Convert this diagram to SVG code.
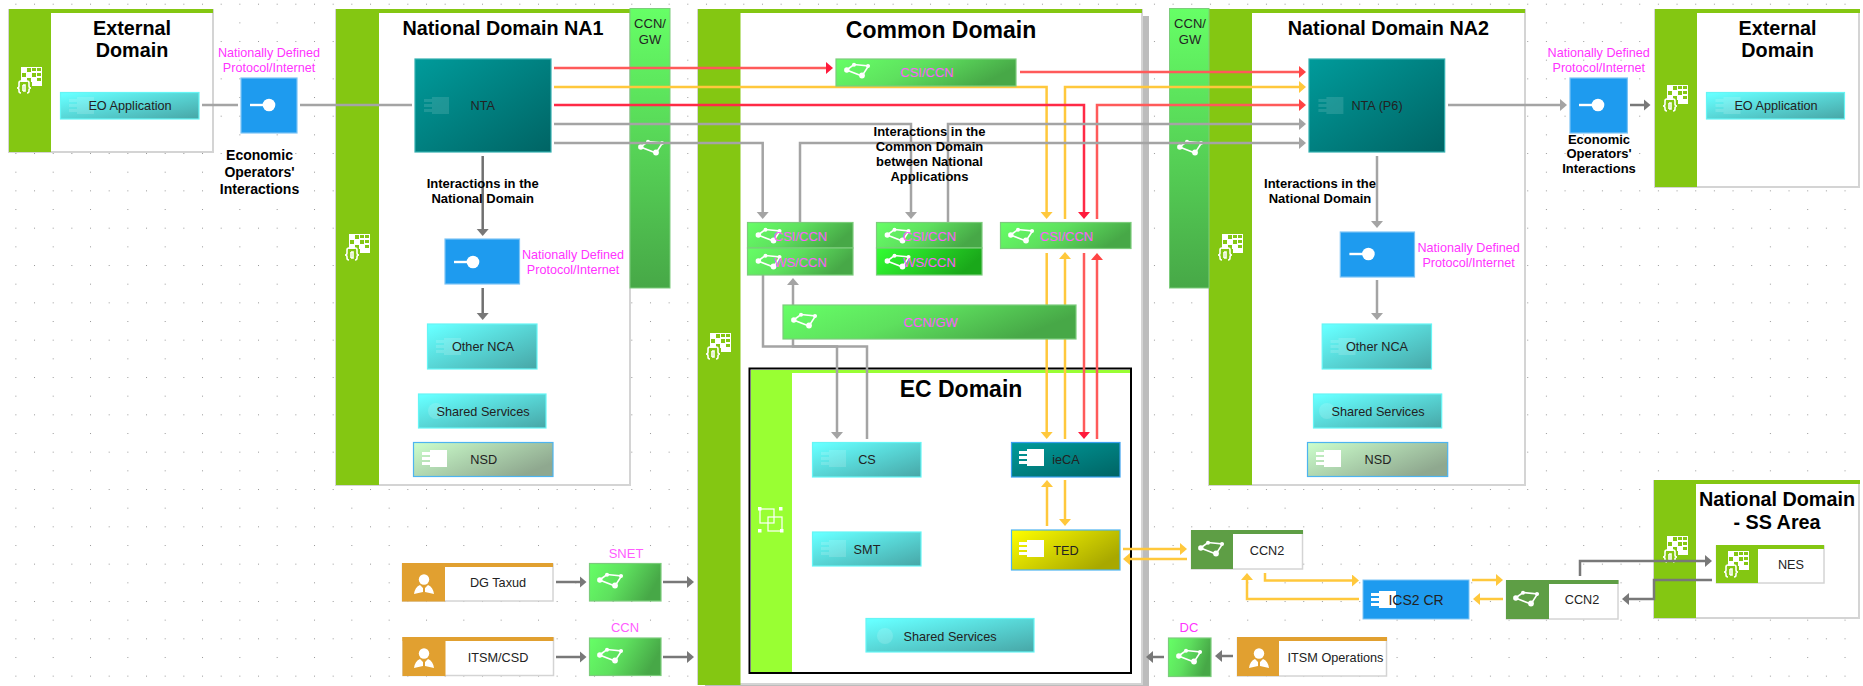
<svg xmlns="http://www.w3.org/2000/svg" width="1863" height="686" viewBox="0 0 1863 686">
<style>
text{font-family:"Liberation Sans",Arial,sans-serif;text-anchor:middle}
.t{font-size:19.800px;font-weight:700;fill:#000}
.tl{font-size:23px;font-weight:700;fill:#000}
.b{font-size:13px;font-weight:700;fill:#000}
.m{font-size:12.600px;fill:#ff33ff}
.p{font-size:13px;fill:#ff5cff}
.n{font-size:12.700px;fill:#222}
.panel{fill:#fff;stroke:#d4d4d4;stroke-width:2}
.bar{fill:#84c712}
.box{stroke-width:1.200}
.cy{fill:url(#gc);stroke:#66f5f5}
.te{fill:url(#gt);stroke:#33b0b0}
.gr{fill:url(#gg);stroke:#7ccc7c}
.bl{fill:#1e9bef;stroke:#7cc4f5}
.ln{fill:none;stroke-width:2.500}
.ga{stroke:#a4a4a4}.dg{stroke:#787878}.ye{stroke:#ffc83c}.re{stroke:#ff5a5a}.rs{stroke:#ff2a46}
.ws{fill:none;stroke:#fff;stroke-width:1.600}
</style>
<defs>
<pattern id="dots" patternUnits="userSpaceOnUse" x="-3.300" y="3.700" width="37.330" height="37.330">
<rect x="0" y="0" width="1" height="1" fill="#999"/><rect x="18.670" y="0" width="1" height="1" fill="#999"/><rect x="18.670" y="18.670" width="1" height="1" fill="#999"/>
</pattern>
<linearGradient id="gc" x1="0" y1="0" x2="1" y2="1"><stop offset="0.05" stop-color="#66ffff"/><stop offset="1" stop-color="#47a6a6"/></linearGradient>
<linearGradient id="gt" x1="0" y1="0" x2="1" y2="1"><stop offset="0" stop-color="#009b9b"/><stop offset="1" stop-color="#006464"/></linearGradient>
<linearGradient id="gg" x1="0" y1="0" x2="1" y2="0.3"><stop offset="0" stop-color="#66ff66"/><stop offset="0.5" stop-color="#5ee05e"/><stop offset="1" stop-color="#47a847"/></linearGradient>
<linearGradient id="gv" x1="0" y1="0" x2="0" y2="1"><stop offset="0" stop-color="#66ff66"/><stop offset="1" stop-color="#47a847"/></linearGradient>
<linearGradient id="gw" x1="0" y1="0" x2="1" y2="0.3"><stop offset="0" stop-color="#33ff33"/><stop offset="1" stop-color="#1aa81a"/></linearGradient>
<linearGradient id="gn" x1="0" y1="0" x2="1" y2="0.6"><stop offset="0" stop-color="#ccffcc"/><stop offset="1" stop-color="#8fa88f"/></linearGradient>
<linearGradient id="gy" x1="0" y1="0" x2="1" y2="0.6"><stop offset="0" stop-color="#ffff00"/><stop offset="1" stop-color="#a8a800"/></linearGradient>
<marker id="aG" markerUnits="userSpaceOnUse" markerWidth="8" markerHeight="13" refX="4" refY="6" orient="auto"><path d="M0 0L7 6L0 12z" fill="#a4a4a4"/></marker>
<marker id="aD" markerUnits="userSpaceOnUse" markerWidth="8" markerHeight="13" refX="4" refY="6" orient="auto"><path d="M0 0L7 6L0 12z" fill="#787878"/></marker>
<marker id="aY" markerUnits="userSpaceOnUse" markerWidth="8" markerHeight="13" refX="4" refY="6" orient="auto"><path d="M0 0L7 6L0 12z" fill="#ffc83c"/></marker>
<marker id="aR" markerUnits="userSpaceOnUse" markerWidth="8" markerHeight="13" refX="4" refY="6" orient="auto"><path d="M0 0L7 6L0 12z" fill="#ff4444"/></marker>
<marker id="aS" markerUnits="userSpaceOnUse" markerWidth="8" markerHeight="13" refX="4" refY="6" orient="auto"><path d="M0 0L7 6L0 12z" fill="#ff1a3c"/></marker>
<g id="iNet"><path class="ws" d="M1.500 7L9 1.500L23.500 3L17 13z"/><circle cx="1.800" cy="7" r="2.700" fill="#fff"/><circle cx="9" cy="1.800" r="2" fill="#fff"/><circle cx="23" cy="3" r="2" fill="#fff"/><circle cx="17" cy="12.500" r="2.900" fill="#fff"/></g>
<g id="iComp" fill="#fff"><rect x="8" y="0" width="17" height="17"/><rect x="0" y="2" width="10" height="3"/><rect x="0" y="7" width="10" height="3"/><rect x="0" y="12" width="10" height="3"/></g>
<g id="iDom"><path fill="#fff" d="M4 0H25V19H14V25H4z"/><g fill="#84c712"><rect x="10" y="1" width="4" height="4"/><rect x="15" y="1" width="4" height="3"/><rect x="20" y="1" width="4" height="3"/><rect x="5" y="6" width="4" height="4"/><rect x="15" y="6" width="4" height="4"/><rect x="20" y="6" width="4" height="3"/><rect x="10" y="11" width="4" height="4"/><rect x="20" y="11" width="4" height="3"/><rect x="4" y="15" width="11" height="11"/></g><path class="ws" d="M4 14q-2 0-2 2v3q0 2-2 2q2 0 2 2v1q0 2 2 2M10 14q2 0 2 2v3q0 2 2 2q-2 0-2 2v1q0 2-2 2M6 18v6M6 18h2v6h-2"/></g>
<g id="iIf" fill="#fff"><rect x="0" y="-1.200" width="16" height="2.400"/><circle cx="19" cy="0" r="6.300"/></g>
<g id="iAct" fill="#fff"><circle cx="10" cy="5.500" r="5.200"/><path d="M6 11l3 3v4l-9 2q1-7 6-9zM14 11l-3 3v4l9 2q-1-7-6-9z"/></g>
</defs>
<rect width="1863" height="686" fill="#fff"/>
<rect width="1863" height="686" fill="url(#dots)"/>

<g id="external-domain-left"><rect class="panel" x="9" y="10" width="204" height="142"/><rect class="bar" x="9" y="9" width="204" height="4"/><rect class="bar" x="9" y="9" width="42" height="143"/><use href="#iDom" x="17" y="67"/><text class="t" x="132" y="35">External</text><text class="t" x="132" y="57">Domain</text></g>
<g id="national-domain-na1"><rect class="panel" x="336" y="10" width="294" height="475"/><rect class="bar" x="336" y="9" width="294" height="4"/><rect class="bar" x="336" y="9" width="43" height="476"/><use href="#iDom" x="345" y="234"/><text class="t" x="503" y="35">National Domain NA1</text></g>
<g id="common-domain"><rect x="705" y="16" width="444" height="675" fill="#bcbcbc"/><rect class="panel" x="698" y="10" width="444" height="674"/><rect class="bar" x="698" y="9" width="444" height="4"/><rect class="bar" x="698" y="9" width="42.500" height="676"/><use href="#iDom" x="706" y="333"/><text class="tl" x="941" y="38">Common Domain</text></g>
<g id="national-domain-na2"><rect class="panel" x="1209" y="10" width="316" height="475"/><rect class="bar" x="1209" y="9" width="316" height="4"/><rect class="bar" x="1209" y="9" width="43" height="476"/><use href="#iDom" x="1218" y="234"/><text class="t" x="1388.400" y="35">National Domain NA2</text></g>
<g id="external-domain-right"><rect class="panel" x="1655" y="10" width="204" height="177"/><rect class="bar" x="1655" y="9" width="205" height="4"/><rect class="bar" x="1655" y="9" width="42" height="178"/><use href="#iDom" x="1663" y="85"/><text class="t" x="1777.600" y="35">External</text><text class="t" x="1777.600" y="57">Domain</text></g>
<g id="national-domain-ss"><rect class="panel" x="1654" y="481" width="205" height="137"/><rect class="bar" x="1654" y="480" width="206" height="4"/><rect class="bar" x="1654" y="480" width="42" height="138"/><use href="#iDom" x="1663" y="536"/><text class="t" x="1777" y="506">National Domain</text><text class="t" x="1777" y="529">- SS Area</text></g>
<g id="ccn-gw-strip-left"><rect x="630" y="8.500" width="40" height="279.500" fill="url(#gv)" stroke="#7ccc7c"/><use href="#iNet" x="639" y="140"/><text class="n" x="650" y="28" style="font-size:13px">CCN/</text><text class="n" x="650" y="44" style="font-size:13px">GW</text></g>
<g id="ccn-gw-strip-right"><rect x="1169.500" y="8.500" width="39.500" height="279.500" fill="url(#gv)" stroke="#7ccc7c"/><use href="#iNet" x="1178" y="140"/><text class="n" x="1190" y="28" style="font-size:13px">CCN/</text><text class="n" x="1190" y="44" style="font-size:13px">GW</text></g>
<g id="ec-domain"><rect x="749.500" y="368.500" width="381.500" height="304.500" fill="#fff" stroke="#000" stroke-width="2"/><rect x="751" y="370" width="379" height="3" fill="#99ff33"/><rect x="751" y="370" width="41" height="302" fill="#99ff33"/><g fill="none" stroke="#fff" stroke-width="1.200"><rect x="760" y="509" width="14" height="14"/><rect x="768" y="517" width="14" height="14"/></g><g fill="#fff"><rect x="758" y="507" width="3.500" height="3.500"/><rect x="779" y="507" width="3.500" height="3.500"/><rect x="758" y="529" width="3.500" height="3.500"/><rect x="780" y="529" width="3.500" height="3.500"/></g><text class="tl" x="961" y="397">EC Domain</text></g>

<g id="connectors">
<path class="ln ga" d="M202 105H238M300 105H412"/>
<path class="ln dg" style="stroke:#707070" d="M482.700 156V233" marker-end="url(#aD)"/>
<path class="ln dg" style="stroke:#707070" d="M482.700 288V317" marker-end="url(#aD)"/>
<path class="ln re" d="M554 68H830" marker-end="url(#aS)"/>
<path class="ln re" d="M1020 72H1303" marker-end="url(#aR)"/>
<path class="ln ye" d="M554 87H1046.600V216" marker-end="url(#aY)"/>
<path class="ln ye" d="M1065 219V87H1303" marker-end="url(#aY)"/>
<path class="ln rs" d="M554 105H1084V216" marker-end="url(#aS)"/>
<path class="ln re" d="M1097 219V105H1303" marker-end="url(#aR)"/>
<path class="ln ga" d="M554 124H911V216" marker-end="url(#aG)"/>
<path class="ln ga" d="M948 222V124H1303" marker-end="url(#aG)"/>
<path class="ln ga" d="M554 143H762.700V216" marker-end="url(#aG)"/>
<path class="ln ga" d="M800 222V143H1303" marker-end="url(#aG)"/>
<path class="ln ye" d="M1046.700 253V436" marker-end="url(#aY)"/>
<path class="ln ye" d="M1065 439V255" marker-end="url(#aY)"/>
<path class="ln re" d="M1084 253V436" marker-end="url(#aS)"/>
<path class="ln re" d="M1097 439V256" marker-end="url(#aR)"/>
<path class="ln ye" d="M1047 526V483" marker-end="url(#aY)"/>
<path class="ln ye" d="M1065 480V523" marker-end="url(#aY)"/>
<path class="ln ga" d="M763 275V346.500H837V436" marker-end="url(#aG)"/>
<path class="ln ga" d="M867 439V346.500H793V281" marker-end="url(#aG)"/>
<path class="ln ye" d="M1123 549H1184" marker-end="url(#aY)"/>
<path class="ln ye" d="M1187 559H1126" marker-end="url(#aY)"/>
<path class="ln ye" d="M1265 573V580.500H1356" marker-end="url(#aY)"/>
<path class="ln ye" d="M1359 599H1247V576" marker-end="url(#aY)"/>
<path class="ln ye" d="M1472 580H1500" marker-end="url(#aY)"/>
<path class="ln ye" d="M1503 599H1476" marker-end="url(#aY)"/>
<path class="ln dg" d="M1580 576V561H1709" marker-end="url(#aD)"/>
<path class="ln dg" d="M1712 580H1654V599H1625" marker-end="url(#aD)"/>
<path class="ln dg" d="M556 582H583.500" marker-end="url(#aD)"/>
<path class="ln dg" d="M663 582H691" marker-end="url(#aD)"/>
<path class="ln dg" d="M556 657H583.500" marker-end="url(#aD)"/>
<path class="ln dg" d="M663 657H691" marker-end="url(#aD)"/>
<path class="ln dg" d="M1233 656H1218" marker-end="url(#aD)"/>
<path class="ln dg" d="M1164 657H1149" marker-end="url(#aD)"/>
<path class="ln ga" d="M1448 105H1564" marker-end="url(#aG)"/>
<path class="ln dg" d="M1630 105H1647.500" marker-end="url(#aD)"/>
<path class="ln ga" d="M1377 156V225" marker-end="url(#aG)"/>
<path class="ln ga" d="M1377 280V317" marker-end="url(#aG)"/>
</g>

<g id="eo-application-left"><rect class="box cy" x="60.500" y="92.500" width="138.500" height="26.500"/><use href="#iComp" x="69" y="97" opacity="0.15"/><text class="n" x="130" y="110">EO Application</text></g>
<g id="if-eo-left"><rect class="box bl" x="241" y="78" width="56" height="55"/><use href="#iIf" x="250" y="105"/><text class="m" x="269" y="57">Nationally Defined</text><text class="m" x="269" y="71.500">Protocol/Internet</text><text class="b" x="259.500" y="160" style="font-size:14px">Economic</text><text class="b" x="259.500" y="177" style="font-size:14px">Operators'</text><text class="b" x="259.500" y="194" style="font-size:14px">Interactions</text></g>
<g id="nta"><rect class="box te" x="415" y="59" width="136" height="93"/><use href="#iComp" x="424" y="97" opacity="0.12"/><text class="n" x="482.700" y="110">NTA</text></g>
<g id="label-na1"><text class="b" x="482.700" y="188">Interactions in the</text><text class="b" x="482.700" y="203">National Domain</text></g>
<g id="if-na1"><rect class="box bl" x="445" y="239" width="74.500" height="45"/><use href="#iIf" x="454" y="262"/><text class="m" x="573" y="259">Nationally Defined</text><text class="m" x="573" y="274">Protocol/Internet</text></g>
<g id="other-nca-na1"><rect class="box cy" x="427.500" y="324" width="109.500" height="45"/><use href="#iComp" x="436" y="338" opacity="0.15"/><text class="n" x="483" y="351">Other NCA</text></g>
<g id="shared-na1"><rect class="box cy" x="418.500" y="394" width="127.500" height="34"/><circle cx="436" cy="411" r="8" fill="#fff" opacity="0.15"/><text class="n" x="483" y="416">Shared Services</text></g>
<g id="nsd-na1"><rect x="413.500" y="442.500" width="139.500" height="34" fill="url(#gn)" stroke="#4db4f0" stroke-width="1.200"/><use href="#iComp" x="422" y="450"/><text class="n" x="483.700" y="464">NSD</text></g>

<g id="csi-ccn-top"><rect class="box gr" x="836" y="59" width="180" height="27"/><use href="#iNet" x="845" y="63"/><text class="p" x="927" y="76.500">CSI/CCN</text></g>
<g id="csi-ccn-a"><rect class="box gr" x="747.500" y="222.500" width="105.500" height="25.500"/><use href="#iNet" x="756.500" y="228"/><text class="p" x="800.500" y="241">CSI/CCN</text></g>
<g id="ws-ccn-a"><rect class="box gr" x="747.500" y="248" width="105.500" height="27"/><use href="#iNet" x="756.500" y="254"/><text class="p" x="800.500" y="267">WS/CCN</text></g>
<g id="csi-ccn-b"><rect class="box gr" x="876.500" y="222.500" width="105.500" height="25.500"/><use href="#iNet" x="885.500" y="228"/><text class="p" x="929.500" y="241">CSI/CCN</text></g>
<g id="ws-ccn-b"><rect x="876.500" y="248" width="105.500" height="27" fill="url(#gw)" stroke="#7ccc7c" stroke-width="1.200"/><use href="#iNet" x="885.500" y="254"/><text class="p" x="929.500" y="267">WS/CCN</text></g>
<g id="csi-ccn-c"><rect class="box gr" x="1000.500" y="222.500" width="130.500" height="26"/><use href="#iNet" x="1009" y="228"/><text class="p" x="1066.500" y="241">CSI/CCN</text></g>
<g id="ccn-gw-wide"><rect class="box gr" x="783" y="305" width="293" height="34"/><use href="#iNet" x="792" y="313"/><text class="p" x="930.700" y="327">CCN/GW</text></g>
<g id="label-common"><text class="b" x="929.500" y="136">Interactions in the</text><text class="b" x="929.500" y="151">Common Domain</text><text class="b" x="929.500" y="166">between National</text><text class="b" x="929.500" y="181">Applications</text></g>
<g id="cs"><rect class="box cy" x="812.500" y="442.500" width="108.500" height="34.500"/><use href="#iComp" x="821" y="450" opacity="0.15"/><text class="n" x="867" y="464">CS</text></g>
<g id="smt"><rect class="box cy" x="812.500" y="532" width="108.500" height="34"/><use href="#iComp" x="821" y="540" opacity="0.15"/><text class="n" x="867" y="554">SMT</text></g>
<g id="ieca"><rect x="1011.500" y="442.500" width="108.500" height="34.500" fill="url(#gt)" stroke="#3aa0ef" stroke-width="1.200"/><use href="#iComp" x="1019" y="449"/><text class="n" x="1066" y="464">ieCA</text></g>
<g id="ted"><rect x="1011.500" y="530" width="108.500" height="40" fill="url(#gy)" stroke="#4db4f0" stroke-width="1.200"/><use href="#iComp" x="1019" y="540"/><text class="n" x="1066" y="555">TED</text></g>
<g id="shared-ec"><rect class="box cy" x="866" y="618.500" width="168" height="33.500"/><circle cx="885" cy="636" r="8" fill="#fff" opacity="0.15"/><text class="n" x="950" y="641">Shared Services</text></g>

<g id="nta-p6"><rect class="box te" x="1309" y="59" width="135.700" height="93"/><use href="#iComp" x="1318.400" y="97" opacity="0.12"/><text class="n" x="1377" y="110">NTA (P6)</text></g>
<g id="label-na2"><text class="b" x="1320" y="188">Interactions in the</text><text class="b" x="1320" y="203">National Domain</text></g>
<g id="if-na2"><rect class="box bl" x="1340.300" y="232" width="74.200" height="45"/><use href="#iIf" x="1349.400" y="254"/><text class="m" x="1468.600" y="252">Nationally Defined</text><text class="m" x="1468.600" y="267">Protocol/Internet</text></g>
<g id="other-nca-na2"><rect class="box cy" x="1322.200" y="324" width="109.300" height="45"/><use href="#iComp" x="1330.500" y="338" opacity="0.15"/><text class="n" x="1377" y="351">Other NCA</text></g>
<g id="shared-na2"><rect class="box cy" x="1313.500" y="394" width="128.200" height="34"/><circle cx="1327" cy="411" r="8" fill="#fff" opacity="0.15"/><text class="n" x="1378" y="416">Shared Services</text></g>
<g id="nsd-na2"><rect x="1307.500" y="442.500" width="140.200" height="34" fill="url(#gn)" stroke="#4db4f0" stroke-width="1.200"/><use href="#iComp" x="1316" y="450"/><text class="n" x="1378" y="464">NSD</text></g>
<g id="if-eo-right"><rect class="box bl" x="1570" y="78" width="57.400" height="55"/><use href="#iIf" x="1579" y="105"/><text class="m" x="1598.700" y="57">Nationally Defined</text><text class="m" x="1598.700" y="71.500">Protocol/Internet</text><text class="b" x="1599" y="144">Economic</text><text class="b" x="1599" y="158">Operators'</text><text class="b" x="1599" y="173">Interactions</text></g>
<g id="eo-application-right"><rect class="box cy" x="1706.500" y="92.500" width="138" height="26.500"/><use href="#iComp" x="1715.500" y="97" opacity="0.15"/><text class="n" x="1776" y="110">EO Application</text></g>

<g id="dg-taxud"><rect class="panel" style="stroke-width:1.500" x="402.500" y="564" width="150.500" height="37"/><rect x="402" y="563" width="151" height="4" fill="#e1a030"/><rect x="402" y="563" width="43" height="38.500" fill="#e1a030"/><use href="#iAct" x="414" y="574"/><text class="n" x="498" y="587">DG Taxud</text></g>
<g id="itsm-csd"><rect class="panel" style="stroke-width:1.500" x="403" y="638" width="150.500" height="37.500"/><rect x="402.500" y="637" width="151" height="4" fill="#e1a030"/><rect x="402.500" y="637" width="43" height="39" fill="#e1a030"/><use href="#iAct" x="414" y="648"/><text class="n" x="498" y="662">ITSM/CSD</text></g>
<g id="snet"><rect class="box gr" x="589.500" y="563.500" width="71.500" height="37.500"/><use href="#iNet" x="598" y="573"/><text class="p" x="626" y="558">SNET</text></g>
<g id="ccn"><rect class="box gr" x="589.500" y="638" width="71.500" height="37.500"/><use href="#iNet" x="598" y="648"/><text class="p" x="625" y="632">CCN</text></g>
<g id="dc"><rect class="box gr" x="1168.500" y="638" width="42.500" height="38.500"/><use href="#iNet" x="1177" y="649"/><text class="m" style="font-size:13px" x="1189" y="632">DC</text></g>
<g id="itsm-operations"><rect class="panel" style="stroke-width:1.500" x="1237.500" y="638" width="149" height="38"/><rect x="1237" y="637" width="150" height="4" fill="#e1a030"/><rect x="1237" y="637" width="42" height="39" fill="#e1a030"/><use href="#iAct" x="1249" y="648"/><text class="n" x="1335.500" y="662">ITSM Operations</text></g>
<g id="ccn2-a"><rect class="panel" style="stroke-width:1.500" x="1191.500" y="531" width="111" height="38"/><rect x="1191" y="530" width="112" height="4" fill="#5e9e45"/><rect x="1191" y="530" width="42" height="39" fill="#5e9e45"/><use href="#iNet" x="1199" y="541"/><text class="n" x="1267" y="555">CCN2</text></g>
<g id="ics2-cr"><rect class="bl" x="1363" y="580" width="106" height="39"/><use href="#iComp" x="1371" y="591"/><text class="n" x="1416" y="605" style="font-size:14px">ICS2 CR</text></g>
<g id="ccn2-b"><rect class="panel" style="stroke-width:1.500" x="1506.500" y="581" width="111.500" height="38"/><rect x="1506" y="580" width="112.500" height="4" fill="#5e9e45"/><rect x="1506" y="580" width="43" height="39" fill="#5e9e45"/><use href="#iNet" x="1514" y="591"/><text class="n" x="1582" y="604">CCN2</text></g>
<g id="nes"><rect class="panel" style="stroke-width:1.500" x="1716.500" y="546" width="107.500" height="37"/><rect x="1716" y="545" width="108" height="4" class="bar"/><rect x="1716" y="545" width="42" height="38" class="bar"/><use href="#iDom" x="1724" y="551"/><text class="n" x="1791" y="569">NES</text></g>
</svg>
